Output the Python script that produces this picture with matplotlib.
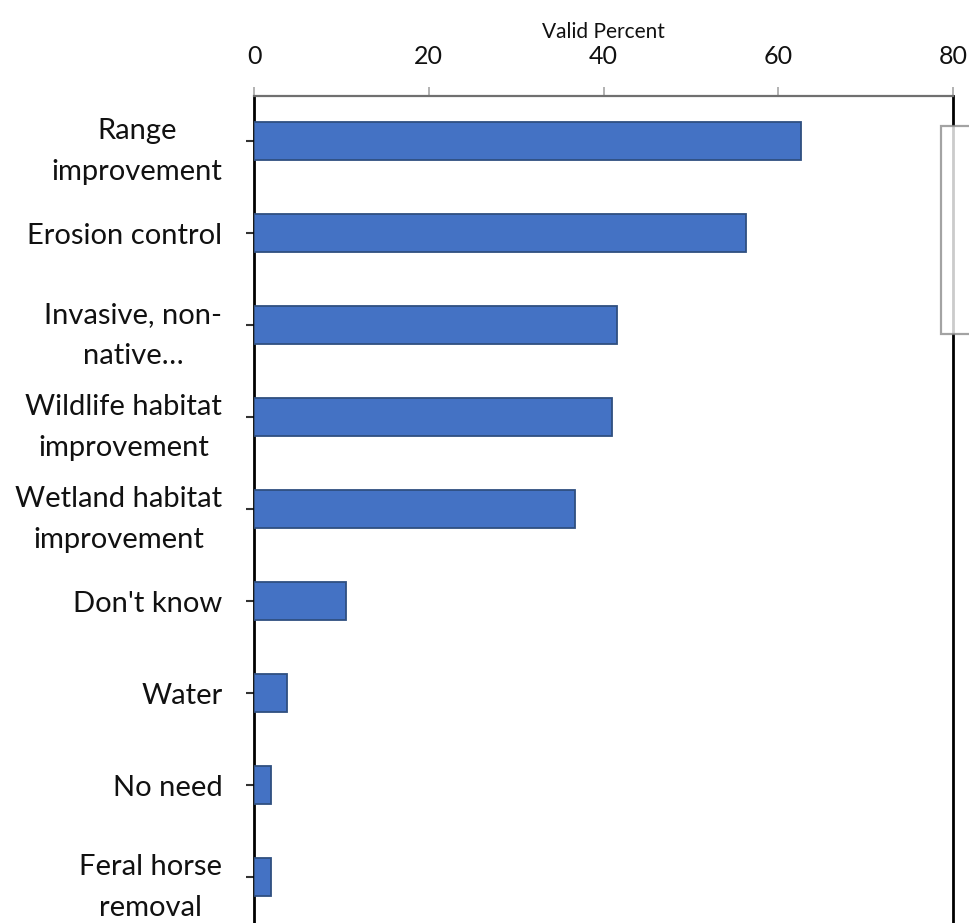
import matplotlib
matplotlib.use("Agg")
import matplotlib.pyplot as plt
from matplotlib.patches import Rectangle

plt.rcParams['font.family'] = ['Lato', 'DejaVu Sans']

categories = [
    "Range\nimprovement",
    "Erosion control",
    "Invasive, non-\nnative…",
    "Wildlife habitat\nimprovement",
    "Wetland habitat\nimprovement",
    "Don't know",
    "Water",
    "No need",
    "Feral horse\nremoval",
]
valid_percent = [62.6, 56.3, 41.6, 41.0, 36.7, 10.5, 3.8, 1.9, 1.9]
x_ticks = [0, 20, 40, 60, 80]

W, H = 969, 923
fig = plt.figure(figsize=(W / 100, H / 100), dpi=100)
ax = fig.add_axes([254 / W, 0.0, (953 - 254) / W, (H - 96) / H])

ypos = list(range(len(categories)))
ax.barh(ypos, valid_percent, height=0.41, color="#4472C4",
        edgecolor="#2F4F80", linewidth=1.3, zorder=3)

ax.set_xlim(0, 80)
ax.set_ylim(8.5, -0.49)
ax.set_xticks(x_ticks)
ax.set_xticklabels([str(t) for t in x_ticks])
ax.set_yticks(ypos)
ax.set_yticklabels(categories, multialignment="center", linespacing=1.75)

ax.xaxis.tick_top()
ax.xaxis.set_label_position("top")
ax.set_xlabel("Valid Percent", fontsize=15, labelpad=5, color="#111111")

ax.tick_params(axis="x", direction="out", length=6.5, width=1.2, color="#a6a6a6",
               labelsize=18, pad=14, labelcolor="#111111")
ax.tick_params(axis="y", direction="out", length=5.8, width=1.5, color="#333333",
               labelsize=21, pad=17, labelcolor="#111111")

ax.spines["bottom"].set_visible(False)
ax.spines["top"].set_color("#707070")
ax.spines["top"].set_linewidth(1.6)
ax.spines["left"].set_color("black")
ax.spines["left"].set_linewidth(2.0)
ax.spines["right"].set_color("black")
ax.spines["right"].set_linewidth(2.0)

# Empty legend frame at the right edge
frame = Rectangle((941 / W, 1 - 334 / H), 60 / W, (334 - 126) / H,
                  transform=fig.transFigure, facecolor="white", alpha=0.8,
                  edgecolor="#8c8c8c", linewidth=1.6, clip_on=False, zorder=10)
fig.patches.append(frame)

fig.savefig("out.png", dpi=100)
